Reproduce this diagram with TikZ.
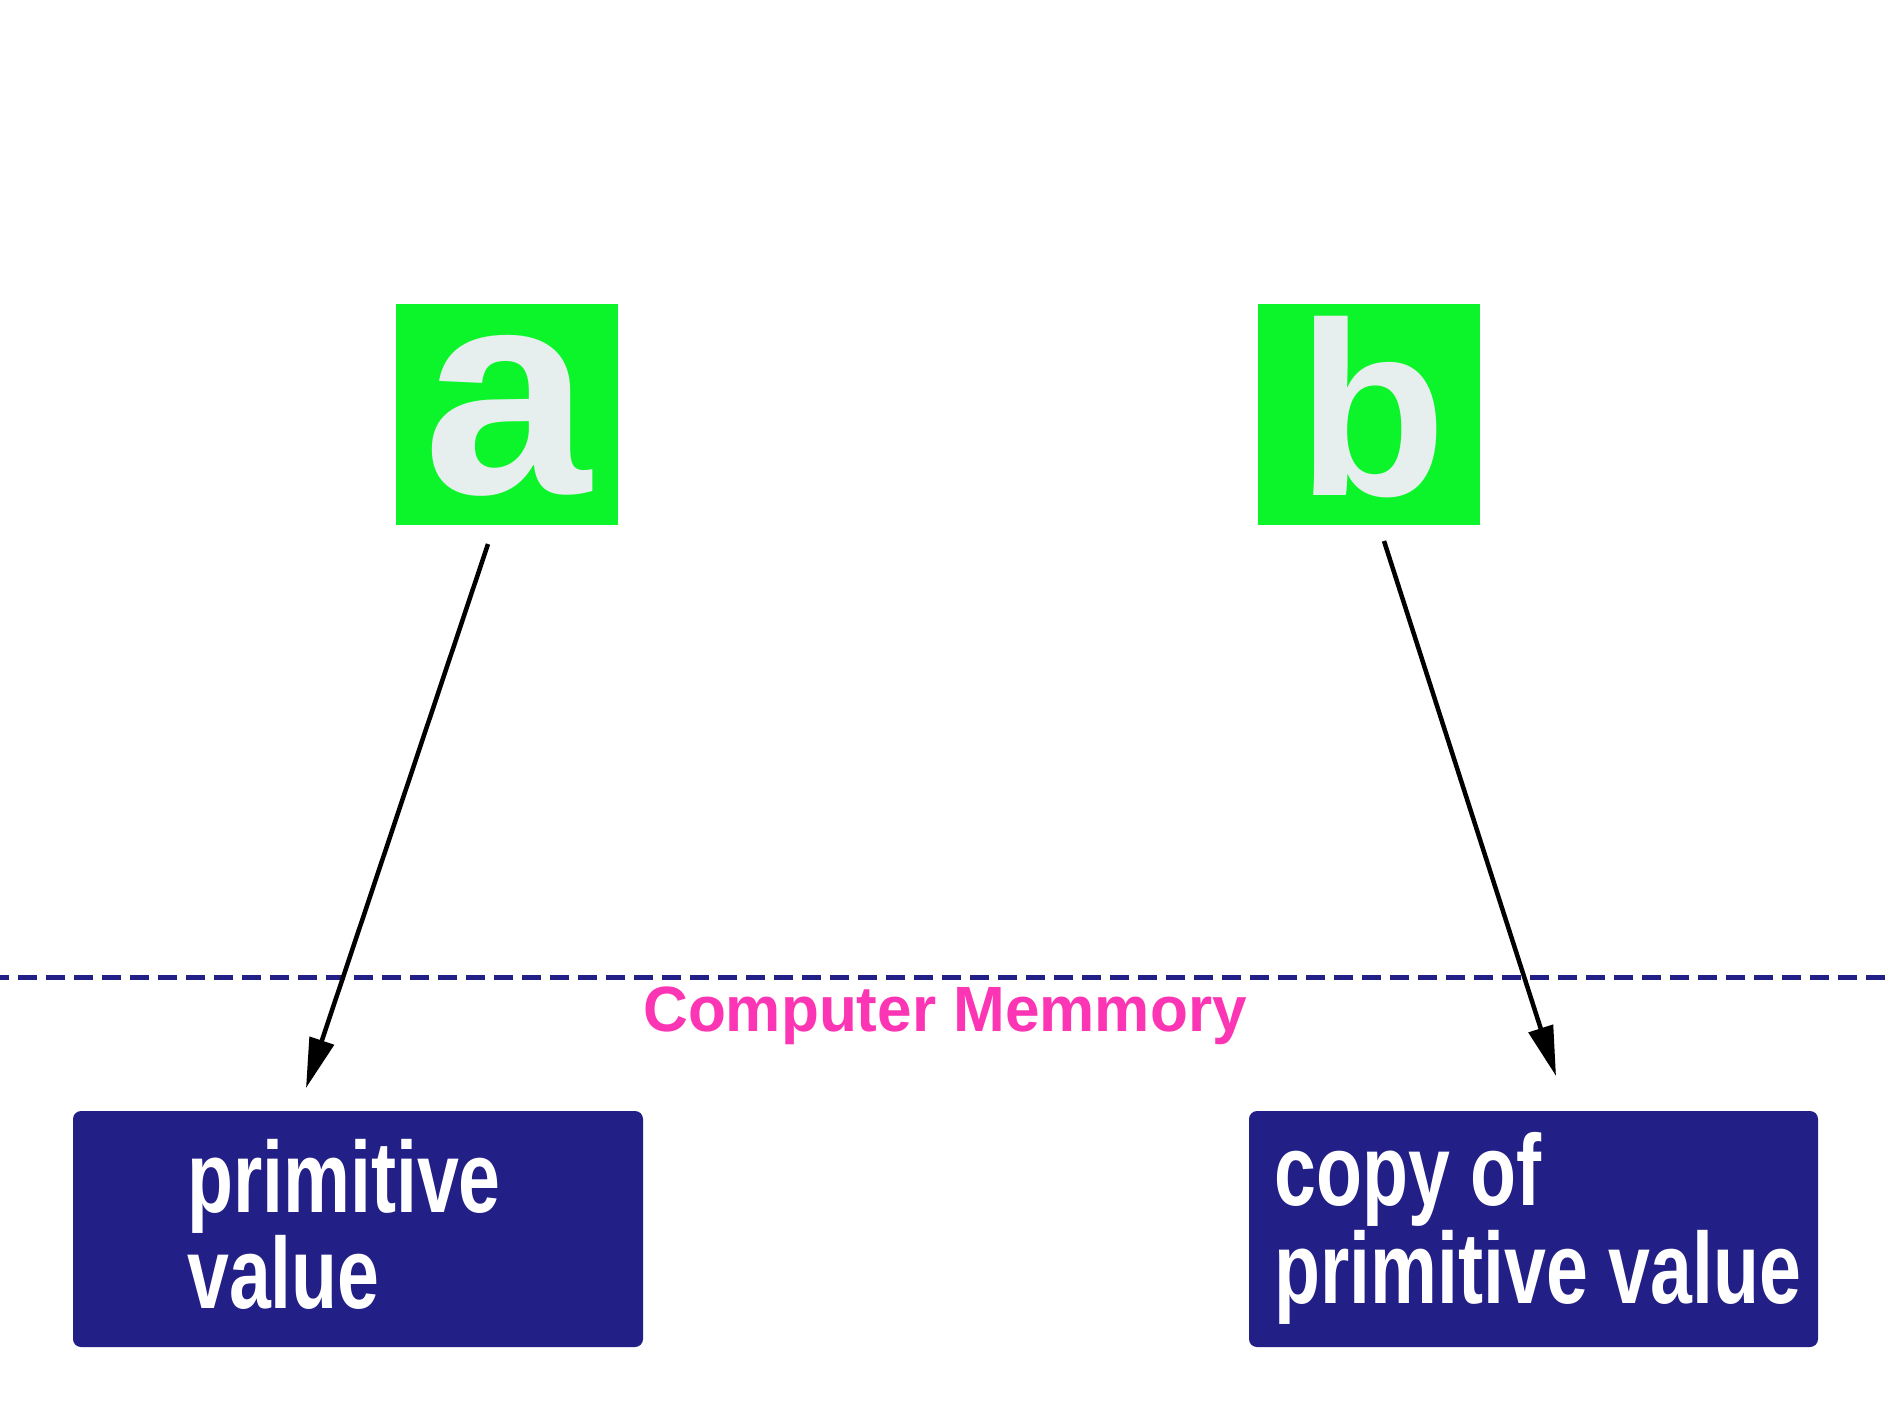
\documentclass[tikz,border=0pt]{standalone}
\usepackage{fontspec}
\setmainfont{Liberation Sans}
\newfontfamily\boxfont[FakeStretch=0.745]{Liberation Sans}
\newfontfamily\memfont[FakeStretch=0.97]{Liberation Sans}
\usetikzlibrary{arrows.meta}
\definecolor{vargreen}{HTML}{0CF52A}
\definecolor{letgray}{HTML}{E7EEEE}
\definecolor{memblue}{HTML}{221F87}
\definecolor{mempink}{HTML}{FC35B4}
\begin{document}
\begin{tikzpicture}[x=1pt,y=-1pt,
  varbox/.style={fill=vargreen, draw=none, minimum width=222pt, minimum height=221pt, inner sep=0pt},
  letter/.style={text=letgray, inner sep=0pt, font=\bfseries},
  valbox/.style={fill=memblue, draw=none, rounded corners=8pt, minimum width=570pt, minimum height=236pt, inner sep=0pt},
  valtext/.style={text=white, inner sep=0pt, anchor=base west, font=\boxfont\bfseries\fontsize{101}{96}\selectfont},
  ref/.style={draw=black, line width=4.5pt, -{Triangle[length=50pt,width=25pt]}},
  memline/.style={draw=memblue, line width=5pt, dash pattern=on 19pt off 9pt, dash phase=10pt}]
\useasboundingbox (0,0) rectangle (1890,1417);
\fill[white] (0,0) rectangle (1890,1417);

% variables
\node[varbox] (a) at (507,414.5) {};
\node[varbox] (b) at (1369,414.5) {};
\node[letter] (alet) at (507,416) {\resizebox{167pt}{158pt}{a}};
\node[letter] (blet) at (1372,407.5) {\resizebox{149pt}{179pt}{b}};

% memory line and label
\coordinate (memL) at (0,977);
\coordinate (memR) at (1890,977);
\draw[memline] (memL) -- (memR);
\node[text=mempink, inner sep=0pt, anchor=base, font=\memfont\bfseries\fontsize{64}{64}\selectfont] (memlabel) at (945,1031) {Computer Memmory};

% value boxes
\node[valbox] (v1) at (358,1229) {};
\node[valbox, minimum width=569pt] (v2) at (1533.5,1229) {};
\node[valtext] (v1a) at (187,1212) {primitive};
\node[valtext] (v1b) at (187,1308) {value};
\node[valtext] (v2a) at (1274,1205) {copy of};
\node[valtext] (v2b) at (1274,1303) {primitive value};

% references
\coordinate (atail) at (488,544);
\coordinate (atip) at (306,1088);
\coordinate (btail) at (1384,541);
\coordinate (btip) at (1556,1076);
\draw[ref] (atail) -- (atip);
\draw[ref] (btail) -- (btip);
\end{tikzpicture}
\end{document}
